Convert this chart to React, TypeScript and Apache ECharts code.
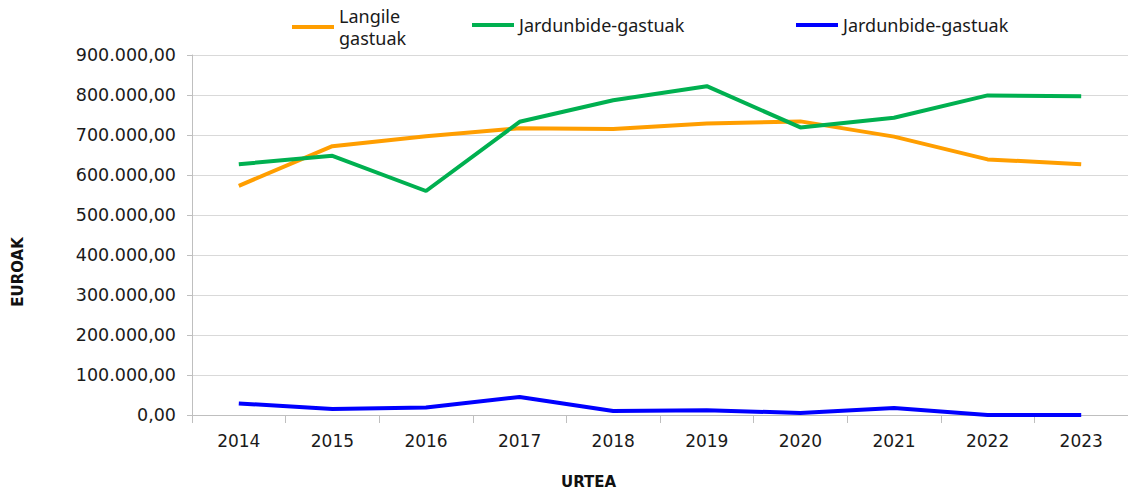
import React, { useEffect, useRef } from "react";
import * as echarts from "echarts";

const years = ["2014", "2015", "2016", "2017", "2018", "2019", "2020", "2021", "2022", "2023"];
const langile = [573000, 672000, 697000, 717000, 715000, 729000, 734000, 696000, 639000, 627000];
const jardunbideGreen = [627000, 648000, 560000, 733000, 787000, 822000, 719000, 743000, 799000, 797000];
const jardunbideBlue = [29000, 15000, 19000, 45000, 10000, 12000, 5000, 17500, 0, 0];

const seriesNames = ["Langile\ngastuak", "Jardunbide-gastuak", "Jardunbide-gastuak "];
const colors = ["#ff9e00", "#00b050", "#0000ff"];
const tickFont = "DejaVu Sans";

function fmt(v: number): string {
  const s = Math.round(v).toString();
  const withDots = s.replace(/\B(?=(\d{3})+(?!\d))/g, ".");
  return withDots + ",00";
}

export default function App() {
  const ref = useRef<HTMLDivElement>(null);
  useEffect(() => {
    if (!ref.current) return;
    const chart = echarts.init(ref.current, undefined, { renderer: "svg" });
    const legendText = { fontFamily: "Noto Sans", fontSize: 18, color: "#1a1a1a", lineHeight: 22 };
    const legendBase = { icon: "rect", itemWidth: 42, itemHeight: 4, textStyle: legendText, itemGap: 10 };
    chart.setOption({
      animation: false,
      legend: [
        { ...legendBase, data: [seriesNames[0]], left: 287, top: 0 },
        { ...legendBase, data: [seriesNames[1]], left: 467, top: 9 },
        { ...legendBase, data: [seriesNames[2]], left: 791, top: 9 },
      ],
      grid: { left: 192, right: 0, top: 55, bottom: 78, containLabel: false },
      xAxis: {
        type: "category",
        data: years,
        boundaryGap: true,
        axisLine: { lineStyle: { color: "#bfbfbf", width: 1 } },
        axisTick: { show: true, length: 8, lineStyle: { color: "#bfbfbf" } },
        axisLabel: { fontFamily: tickFont, fontSize: 17, color: "#1a1a1a", margin: 17 },
      },
      yAxis: {
        type: "value",
        min: 0,
        max: 900000,
        interval: 100000,
        axisLine: { show: true, lineStyle: { color: "#bfbfbf", width: 1 } },
        axisTick: { show: true, length: 5, lineStyle: { color: "#bfbfbf" } },
        splitLine: { lineStyle: { color: "#d9d9d9", width: 1 } },
        axisLabel: { fontFamily: tickFont, fontSize: 17.5, color: "#1a1a1a", margin: 16, formatter: (v: number) => fmt(v) },
      },
      series: [
        { name: seriesNames[0], type: "line", data: langile, showSymbol: false, lineStyle: { width: 4, color: colors[0] }, itemStyle: { color: colors[0] } },
        { name: seriesNames[1], type: "line", data: jardunbideGreen, showSymbol: false, lineStyle: { width: 4, color: colors[1] }, itemStyle: { color: colors[1] } },
        { name: seriesNames[2], type: "line", data: jardunbideBlue, showSymbol: false, lineStyle: { width: 4, color: colors[2] }, itemStyle: { color: colors[2] } },
      ],
      graphic: [
        {
          type: "text",
          left: 561,
          top: 474,
          style: { text: "URTEA", fontFamily: "DejaVu Sans", fontWeight: "bold", fontSize: 15, fill: "#111" },
        },
        {
          type: "text",
          x: 18,
          y: 272,
          rotation: Math.PI / 2,
          style: { text: "EUROAK", fontFamily: "DejaVu Sans", fontWeight: "bold", fontSize: 15, fill: "#111", textAlign: "center", textVerticalAlign: "middle" },
        },
      ],
    });
    return () => chart.dispose();
  }, []);
  return <div ref={ref} style={{ width: 1128, height: 493, position: "absolute", left: 0, top: 0 }} />;
}
